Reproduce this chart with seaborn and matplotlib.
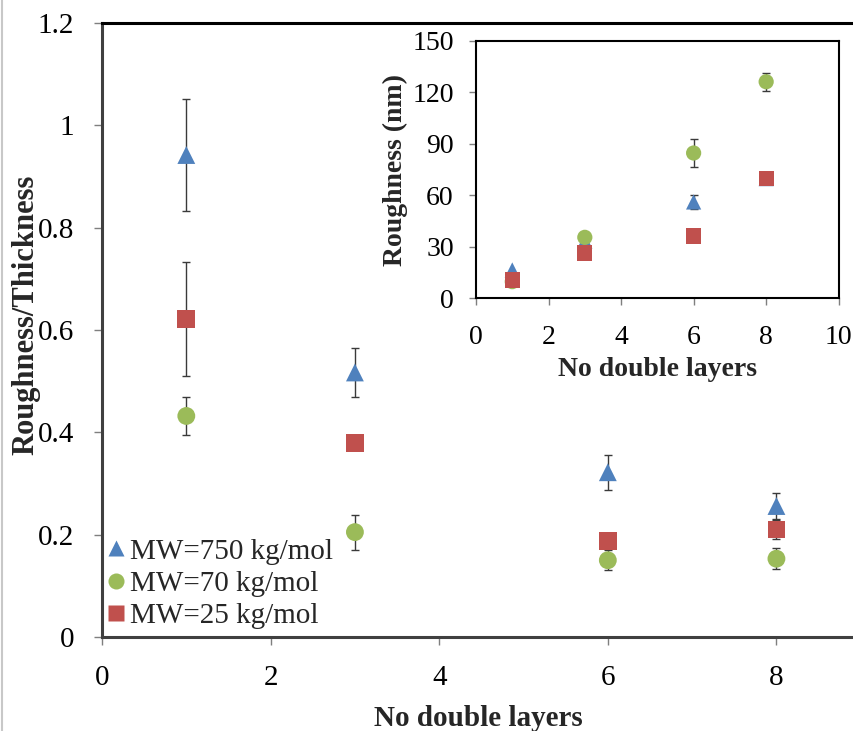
import matplotlib
matplotlib.use("Agg")
import matplotlib.pyplot as plt
import seaborn as sns
import pandas as pd
import numpy as np

# ---- data ----
layers = [1, 3, 6, 8]
series = ["MW=750 kg/mol", "MW=70 kg/mol", "MW=25 kg/mol"]

ratio_750 = [0.942, 0.517, 0.322, 0.256]
ratio_750_err = [0.110, 0.048, 0.034, 0.025]
ratio_70 = [0.432, 0.205, 0.150, 0.153]
ratio_70_err = [0.038, 0.034, 0.020, 0.020]
ratio_25 = [0.622, 0.379, 0.188, 0.210]
ratio_25_err = [0.111, 0.007, 0.004, 0.018]

rough_750 = [16.5, 33.4, 56.1, 69.7]
rough_750_err = [0.0, 0.0, 4.2, 0.0]
rough_70 = [9.7, 35.5, 84.6, 126.1]
rough_70_err = [0.0, 0.0, 8.2, 5.2]
rough_25 = [10.7, 26.4, 36.3, 69.7]
rough_25_err = [0.0, 0.0, 0.0, 0.0]

main_yticks = [0, 0.2, 0.4, 0.6, 0.8, 1.0, 1.2]
main_yticklabels = ["0", "0.2", "0.4", "0.6", "0.8", "1", "1.2"]
main_xticks = [0, 2, 4, 6, 8]
inset_yticks = [0, 30, 60, 90, 120, 150]
inset_xticks = [0, 2, 4, 6, 8, 10]

colors = {"MW=750 kg/mol": "#4F81BD", "MW=70 kg/mol": "#9BBB59", "MW=25 kg/mol": "#C0504D"}
markers = {"MW=750 kg/mol": "^", "MW=70 kg/mol": "o", "MW=25 kg/mol": "s"}

main_df = pd.DataFrame({
    "layers": layers * 3,
    "value": ratio_750 + ratio_70 + ratio_25,
    "err": ratio_750_err + ratio_70_err + ratio_25_err,
    "series": [s for s in series for _ in layers],
})
inset_df = pd.DataFrame({
    "layers": layers * 3,
    "value": rough_750 + rough_70 + rough_25,
    "err": rough_750_err + rough_70_err + rough_25_err,
    "series": [s for s in series for _ in layers],
})

sns.set_theme(style="white")
plt.rcParams["font.family"] = ["Liberation Serif", "DejaVu Serif"]

fig = plt.figure(figsize=(8.54, 7.31), dpi=100)
fig.patch.set_facecolor("white")

# ---- main axes ----
ax = fig.add_axes([102 / 854, 1 - 637 / 731, 1 - 102 / 854, (637 - 23) / 731])
for s in series:
    d = main_df[main_df.series == s]
    ax.errorbar(d["layers"], d["value"], yerr=d["err"], fmt="none",
                ecolor="#3a3a3a", elinewidth=1, capsize=3, capthick=1, zorder=2)
sns.scatterplot(data=main_df, x="layers", y="value", hue="series", style="series",
                hue_order=series, style_order=series, palette=colors, markers=markers,
                s=165, edgecolor="none", ax=ax, zorder=3)
ax.set_xlim(0, 8.92)
ax.set_ylim(0, 1.2)
ax.set_xticks(main_xticks)
ax.set_xticklabels([str(t) for t in main_xticks])
ax.set_yticks(main_yticks)
ax.set_yticklabels(main_yticklabels)
ax.tick_params(axis="both", which="major", direction="out", length=6, width=1,
               color="#7f7f7f", labelsize=21, labelcolor="black", left=True, bottom=True)
ax.tick_params(axis="x", pad=14)
ax.tick_params(axis="y", pad=14)
ax.spines["right"].set_visible(False)
ax.spines["top"].set_color("black")
ax.spines["top"].set_linewidth(2.2)
ax.spines["left"].set_color("#404040")
ax.spines["left"].set_linewidth(2.2)
ax.spines["bottom"].set_color("#404040")
ax.spines["bottom"].set_linewidth(2.2)
ax.set_xlabel("No double layers", fontsize=21, fontweight="bold", labelpad=10)
ax.set_ylabel("Roughness/Thickness", fontsize=22, fontweight="bold")
ax.yaxis.set_label_coords(-0.082, 0.524)

handles, labels = ax.get_legend_handles_labels()
leg = ax.legend(handles, labels, loc="lower left", bbox_to_anchor=(-0.006, -0.006),
                frameon=False, fontsize=21, handletextpad=0.2, labelspacing=0.2,
                borderaxespad=0.0, markerscale=0.9, handlelength=0.5)

# ---- inset axes ----
ax2 = fig.add_axes([476 / 854, 1 - 298.3 / 731, (838.7 - 476) / 854, (298.3 - 40.7) / 731])
for s in series:
    d = inset_df[(inset_df.series == s) & (inset_df.err > 0)]
    if len(d):
        ax2.errorbar(d["layers"], d["value"], yerr=d["err"], fmt="none",
                     ecolor="#3a3a3a", elinewidth=1, capsize=3, capthick=1, zorder=2)
sns.scatterplot(data=inset_df, x="layers", y="value", hue="series", style="series",
                hue_order=series, style_order=series, palette=colors, markers=markers,
                s=120, edgecolor="none", ax=ax2, zorder=3, legend=False)
ax2.set_xlim(0, 10)
ax2.set_ylim(0, 150)
ax2.set_xticks(inset_xticks)
ax2.set_yticks(inset_yticks)
ax2.tick_params(axis="both", which="major", direction="out", length=5, width=1,
                color="#7f7f7f", labelsize=20, labelcolor="black", left=True, bottom=True)
ax2.tick_params(axis="x", pad=14)
ax2.tick_params(axis="y", pad=11)
for sp in ax2.spines.values():
    sp.set_color("black")
    sp.set_linewidth(1.5)
ax2.set_xlabel("No double layers", fontsize=20, fontweight="bold", labelpad=5)
ax2.set_ylabel("Roughness (nm)", fontsize=20, fontweight="bold", labelpad=3)

# thin frame line at the left edge of the image
fig.add_artist(plt.Line2D([0.002, 0.002], [0, 1], color="#c8c8c8", lw=1.5))

fig.savefig("out.png", dpi=100, facecolor="white")
